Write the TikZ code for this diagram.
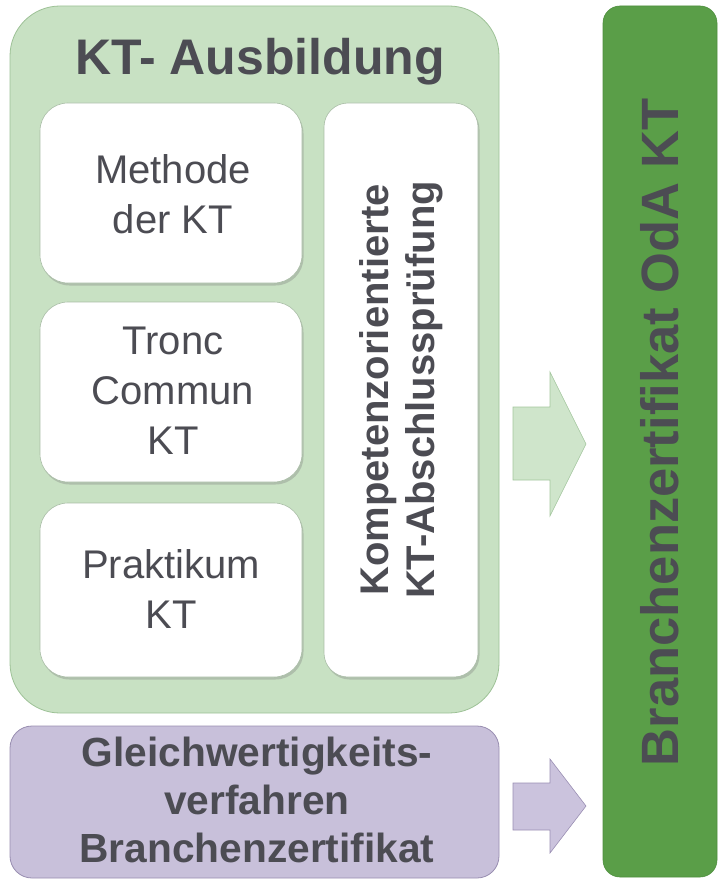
\documentclass[tikz,border=0pt]{standalone}
\usepackage{fontspec}
\setmainfont{Liberation Sans}
\usetikzlibrary{shadows}
\definecolor{txt}{HTML}{4C4C53}
\definecolor{lgreen}{HTML}{C8E1C3}
\definecolor{lgreenB}{HTML}{9DC196}
\definecolor{wbord}{HTML}{A9BDA6}
\definecolor{purp}{HTML}{C8C0DA}
\definecolor{purpB}{HTML}{988DB0}
\definecolor{dgreen}{HTML}{5A9E48}
\definecolor{dgreenB}{HTML}{4E8F3E}
\definecolor{arrG}{HTML}{CFE5CB}
\definecolor{arrGB}{HTML}{A3C69D}
\definecolor{arrP}{HTML}{CBC3DD}
\definecolor{arrPB}{HTML}{9A8FB3}
\tikzset{
  outerbox/.style={draw=lgreenB, line width=0.8pt, fill=lgreen, rounded corners=50pt},
  whitebox/.style={draw=wbord, line width=0.6pt, fill=white, rounded corners=28pt,
     drop shadow={opacity=0.35, shadow xshift=1.5pt, shadow yshift=-2.5pt}},
  purpbox/.style={draw=purpB, line width=0.8pt, fill=purp, rounded corners=22pt},
  certbox/.style={draw=dgreenB, line width=0.6pt, fill=dgreen, rounded corners=17pt},
  reglabel/.style={text=txt, align=center, inner sep=0pt, font=\fontsize{40}{50}\selectfont},
  boldlabel/.style={text=txt, align=center, inner sep=0pt, font=\bfseries\fontsize{40}{47}\selectfont},
}
\begin{document}
\begin{tikzpicture}[x=1pt,y=-1pt]
\useasboundingbox (0,0) rectangle (718,880);
% outer green container
\draw[outerbox] (10,6) rectangle (499,713);
\node[text=txt, anchor=base, inner sep=0pt, font=\bfseries\fontsize{50}{54}\selectfont] (title) at (260,75) {KT- Ausbildung};
% inner boxes
\draw[whitebox] (40,103) rectangle (302,283);
\node[reglabel] (methode) at (173,194) {Methode\\der KT};
\draw[whitebox] (40,302) rectangle (302,482);
\node[reglabel] (tronc) at (173,391) {Tronc\\Commun\\KT};
\draw[whitebox] (40,503) rectangle (302,677);
\node[reglabel] (praktikum) at (171,589) {Praktikum\\KT};
\draw[whitebox, rounded corners=24pt] (324,103) rectangle (478,677);
\node[boldlabel, rotate=90, font=\bfseries\fontsize{40}{46}\selectfont] (pruefung) at (401,390) {Kompetenzorientierte\\KT-Abschlussprüfung};
% purple box
\draw[purpbox] (10,726) rectangle (499,878);
\node[boldlabel, font=\bfseries\fontsize{40.7}{48}\selectfont] (gleich) at (257,800) {Gleichwertigkeits-\\verfahren\\Branchenzertifikat};
% certificate box
\draw[certbox] (603,6) rectangle (717,877);
\node[text=txt, rotate=90, inner sep=0pt, font=\bfseries\fontsize{52.5}{56}\selectfont] (cert) at (660,432) {Branchenzertifikat OdA KT};
% block arrows
\draw[fill=arrG, draw=arrGB, line width=0.6pt] (513,407) -- (550,407) -- (550,372) -- (586,444) -- (550,516) -- (550,480) -- (513,480) -- cycle;
\draw[fill=arrP, draw=arrPB, line width=0.6pt] (513,783) -- (550,783) -- (550,759) -- (586,806) -- (550,853) -- (550,830) -- (513,830) -- cycle;
\end{tikzpicture}
\end{document}
